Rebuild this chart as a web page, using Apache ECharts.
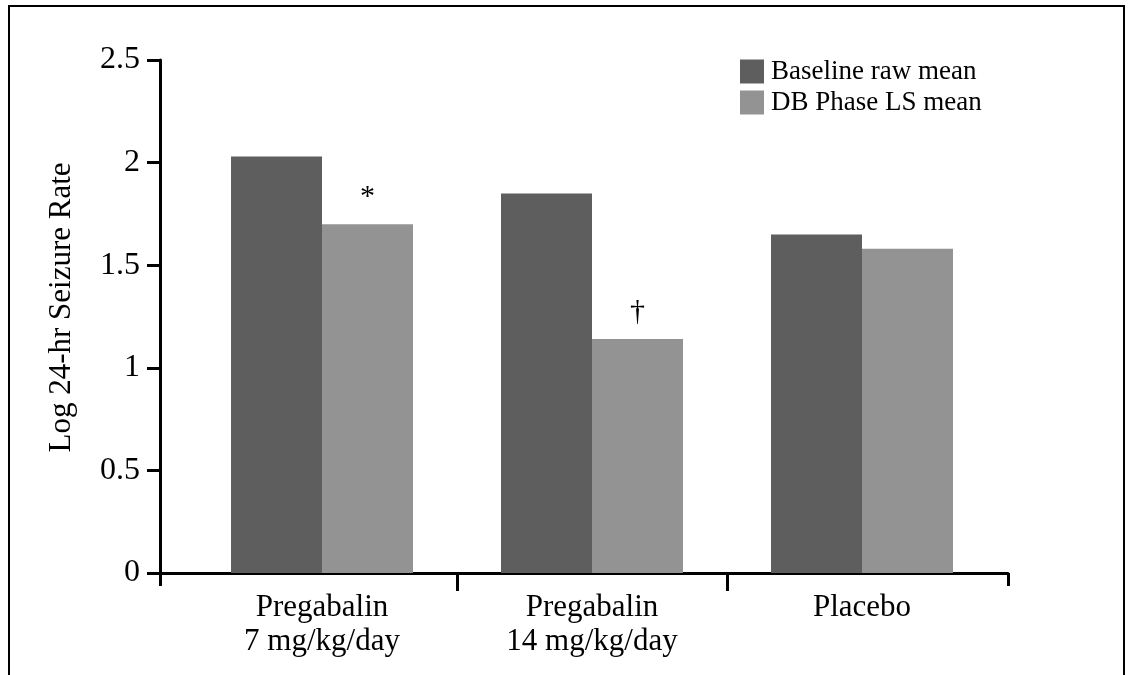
<!DOCTYPE html>
<html>
<head>
<meta charset="utf-8">
<script src="https://cdn.jsdelivr.net/npm/echarts@6/dist/echarts.min.js"></script>
<style>
html,body{margin:0;padding:0;background:#fff;}
#chart{width:1133px;height:675px;}
</style>
</head>
<body>
<div id="chart"></div>
<script>
const categories = ['Pregabalin\n7 mg/kg/day', 'Pregabalin\n14 mg/kg/day', 'Placebo'];
const baselineValues = [2.03, 1.85, 1.65];
const dbPhaseValues = [1.70, 1.14, 1.58];
const annotations = ['*', '\u2020', ''];
const seriesNames = ['Baseline raw mean', 'DB Phase LS mean'];
const yTitle = 'Log 24-hr Seizure Rate';

const FONT = "'Liberation Serif', 'Times New Roman', serif";
const chart = echarts.init(document.getElementById('chart'));

chart.setOption({
  animation: false,
  backgroundColor: '#fff',
  textStyle: { fontFamily: FONT, color: '#000' },
  graphic: [{
    type: 'rect',
    shape: { x: 9, y: 6, width: 1115, height: 720 },
    style: { fill: 'none', stroke: '#000', lineWidth: 2 },
    silent: true
  }],
  legend: {
    orient: 'vertical',
    left: 735,
    top: 53,
    icon: 'rect',
    itemWidth: 24,
    itemHeight: 24,
    itemGap: 4,
    textStyle: { fontFamily: FONT, fontSize: 27, color: '#000', padding: [0, 0, 0, 2] },
    data: seriesNames
  },
  grid: [
    { left: 187, right: 136, top: 60, bottom: 102 },
    { left: 160, right: 125, top: 60, bottom: 102 },
    { left: 457, right: 406, top: 60, bottom: 102 }
  ],
  xAxis: [
    {
      gridIndex: 0, type: 'category', data: categories,
      axisLine: { show: false }, axisTick: { show: false },
      axisLabel: { fontFamily: FONT, fontSize: 31, color: '#000', lineHeight: 34, margin: 18 }
    },
    {
      gridIndex: 1, type: 'category', data: [''],
      axisLine: { show: true, lineStyle: { color: '#000', width: 3 } },
      axisTick: { show: true, length: 13, lineStyle: { color: '#000', width: 3 } },
      axisLabel: { show: false }
    },
    {
      gridIndex: 2, type: 'category', data: [''],
      axisLine: { show: false },
      axisTick: { show: true, length: 18, lineStyle: { color: '#000', width: 3 } },
      axisLabel: { show: false }
    }
  ],
  yAxis: [
    { gridIndex: 0, type: 'value', min: 0, max: 2.5, show: false },
    {
      gridIndex: 1, type: 'value', min: 0, max: 2.5, interval: 0.5,
      name: yTitle, nameLocation: 'middle', nameGap: 83,
      nameTextStyle: { fontFamily: FONT, fontSize: 31, color: '#000', padding: [0, 0, 0, 18] },
      axisLine: { show: true, lineStyle: { color: '#000', width: 3 } },
      axisTick: { show: true, length: 13, lineStyle: { color: '#000', width: 3 } },
      axisLabel: { fontFamily: FONT, fontSize: 32, color: '#000', margin: 20 },
      splitLine: { show: false }
    },
    { gridIndex: 2, type: 'value', min: 0, max: 2.5, show: false }
  ],
  series: [
    {
      name: seriesNames[0], type: 'bar', xAxisIndex: 0, yAxisIndex: 0,
      data: baselineValues, barGap: '0%', barCategoryGap: '32.6%',
      itemStyle: { color: '#5e5e5e' }
    },
    {
      name: seriesNames[1], type: 'bar', xAxisIndex: 0, yAxisIndex: 0,
      data: dbPhaseValues, barGap: '0%', barCategoryGap: '32.6%',
      itemStyle: { color: '#939393' },
      label: {
        show: true, position: 'top', distance: 12,
        fontFamily: FONT, fontSize: 30, color: '#000',
        formatter: p => annotations[p.dataIndex]
      }
    }
  ]
});
</script>
</body>
</html>
